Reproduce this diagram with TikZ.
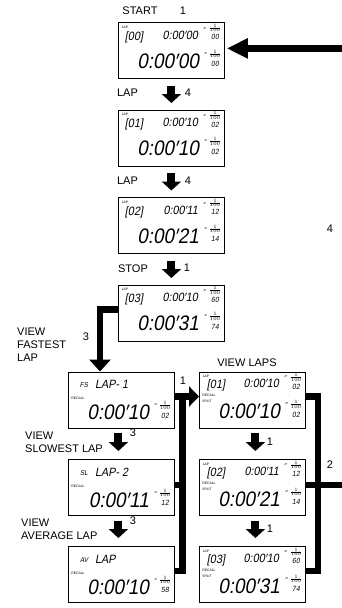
\documentclass[tikz,border=0pt]{standalone}
\usepackage{fontspec}
\setmainfont{Liberation Sans}
\newfontfamily\lcd[FakeSlant=0.18,FakeStretch=0.9]{Liberation Sans}
\usetikzlibrary{arrows.meta}

\tikzset{
  dbox/.style={draw=black, line width=0.8pt, minimum width=106pt, minimum height=56pt, inner sep=0, anchor=north west},
  lbl/.style={font=\fontsize{11}{13}\selectfont, inner sep=0, align=left},
  downarr/.style={line width=8pt, -{Triangle[width=19pt,length=9pt]}},
  blkarr/.style={line width=6.5pt, -{Triangle[width=20pt,length=10pt]}},
  bigarr/.style={line width=6.5pt, -{Triangle[width=19pt,length=21pt]}},
  bentarr/.style={line width=6.5pt, -{Triangle[width=21pt,length=12pt]}},
  bar/.style={line width=6.5pt},
  tinytx/.style={font=\fontsize{3.4}{3.4}\selectfont, inner sep=0},
  lcdsm/.style={font=\lcd\fontsize{12}{12}\selectfont, inner sep=0},
  lcdpre/.style={font=\lcd\fontsize{7}{7}\selectfont, inner sep=0},
  lcdbig/.style={font=\lcd\fontsize{21}{21}\selectfont, inner sep=0},
  lcdhund/.style={font=\lcd\fontsize{7.5}{7.5}\selectfont, inner sep=0},
  lcdq/.style={font=\lcd\fontsize{7}{7}\selectfont, inner sep=0},
  fr/.style={font=\fontsize{5}{5}\selectfont, inner sep=0},
}

% upper display: name, x, y, lap number, top time, top hundredths, big time, big hundredths
\newcommand\updisp[8]{%
  \node[dbox] (#1) at (#2,#3) {};
  \begin{scope}[shift={(#2,#3)}]
    \node[tinytx] (#1-a) at (7,5) {LAP};
    \node[lcdsm] (#1-n) at (16,15) {[#4]};
    \node[lcdsm, anchor=east] (#1-t) at (80,13) {#5};
    \node[lcdq] (#1-tq) at (86,8) {″};
    \node[fr] (#1-tf) at (97,6) {$\frac{1}{100}$};
    \node[lcdhund] (#1-th) at (97,15) {#6};
    \node[lcdbig, anchor=east] (#1-b) at (81,39) {#7};
    \node[lcdq] (#1-bq) at (87,33) {″};
    \node[fr] (#1-bf) at (97,32) {$\frac{1}{100}$};
    \node[lcdhund] (#1-bh) at (97,42) {#8};
  \end{scope}}

% recall display: name, x, y, prefix, label, big time, big hundredths
\newcommand\lodisp[7]{%
  \node[dbox] (#1) at (#2,#3) {};
  \begin{scope}[shift={(#2,#3)}]
    \node[lcdpre] (#1-p) at (16,14) {#4};
    \node[lcdsm, anchor=west] (#1-l) at (27,13) {#5};
    \node[tinytx] (#1-r) at (10,27) {RECALL};
    \node[lcdbig, anchor=east] (#1-b) at (81,41) {#6};
    \node[lcdq] (#1-bq) at (87,35) {″};
    \node[fr] (#1-bf) at (97,34) {$\frac{1}{100}$};
    \node[lcdhund] (#1-bh) at (97,44) {#7};
  \end{scope}}

% split display: name, x, y, lap number, top time, top hundredths, big time, big hundredths
\newcommand\rtdisp[8]{%
  \node[dbox] (#1) at (#2,#3) {};
  \begin{scope}[shift={(#2,#3)}]
    \node[tinytx] (#1-a) at (7,5) {LAP};
    \node[lcdsm] (#1-n) at (17,14) {[#4]};
    \node[lcdsm, anchor=east] (#1-t) at (80,12) {#5};
    \node[lcdq] (#1-tq) at (86,7) {″};
    \node[fr] (#1-tf) at (97,6) {$\frac{1}{100}$};
    \node[lcdhund] (#1-th) at (97,15) {#6};
    \node[tinytx] (#1-r) at (10,24) {RECALL};
    \node[tinytx] (#1-s) at (8,30) {SPLIT};
    \node[lcdbig, anchor=east] (#1-b) at (81,40) {#7};
    \node[lcdq] (#1-bq) at (87,34) {″};
    \node[fr] (#1-bf) at (97,33) {$\frac{1}{100}$};
    \node[lcdhund] (#1-bh) at (97,43) {#8};
  \end{scope}}

\begin{document}
\begin{tikzpicture}[x=1pt,y=-1pt]
\useasboundingbox (0,0) rectangle (342,608);

% displays
\updisp{b1}{118}{22}{00}{0:00′00}{00}{0:00′00}{00}
\updisp{b2}{118}{109.5}{01}{0:00′10}{02}{0:00′10}{02}
\updisp{b3}{118}{197}{02}{0:00′11}{12}{0:00′21}{14}
\updisp{b4}{118}{284.5}{03}{0:00′10}{60}{0:00′31}{74}
\lodisp{b5}{68}{371.5}{FS}{LAP- 1}{0:00′10}{02}
\lodisp{b7}{68}{459}{SL}{LAP- 2}{0:00′11}{12}
\lodisp{b8}{68}{546}{AV}{LAP}{0:00′10}{58}
\rtdisp{b6}{199}{371.5}{01}{0:00′10}{02}{0:00′10}{02}
\rtdisp{b9}{199}{459}{02}{0:00′11}{12}{0:00′21}{14}
\rtdisp{b10}{199}{546}{03}{0:00′10}{60}{0:00′31}{74}

% labels
\node[lbl] (l1) at (140,11) {START};
\node[lbl] (n1) at (183,11) {1};
\node[lbl] (l2) at (127.5,93) {LAP};
\node[lbl] (n2) at (188,93) {4};
\node[lbl] (l3) at (127.5,181) {LAP};
\node[lbl] (n3) at (188,181) {4};
\node[lbl] (l4) at (133,269) {STOP};
\node[lbl] (n4) at (187,268) {1};
\node[lbl] (n5) at (330,229) {4};
\node[lbl, anchor=north west] (l5) at (17,328) {VIEW\\FASTEST\\LAP};
\node[lbl] (n6) at (86,337) {3};
\node[lbl] (l6) at (247,363) {VIEW LAPS};
\node[lbl] (n7) at (183,381) {1};
\node[lbl, anchor=north west] (l7) at (25,432) {VIEW\\SLOWEST LAP};
\node[lbl] (n8) at (133,433) {3};
\node[lbl, anchor=north west] (l8) at (21,519) {VIEW\\AVERAGE LAP};
\node[lbl] (n9) at (133,521) {3};
\node[lbl] (n10) at (270,442) {1};
\node[lbl] (n11) at (270,529) {1};
\node[lbl] (n12) at (330,465) {2};

% down arrows
\draw[downarr] ([yshift=-7pt]b1.south) -- ([yshift=6.5pt]b2.north);
\draw[downarr] ([yshift=-7pt]b2.south) -- ([yshift=6.5pt]b3.north);
\draw[downarr] ([yshift=-7pt]b3.south) -- ([yshift=6.5pt]b4.north);
\draw[downarr] ([xshift=-3pt,yshift=-5pt]b5.south) -- ([xshift=-3pt,yshift=8pt]b7.north);
\draw[downarr] ([xshift=-3pt,yshift=-5pt]b7.south) -- ([xshift=-3pt,yshift=8pt]b8.north);
\draw[downarr] ([xshift=3pt,yshift=-5pt]b6.south) -- ([xshift=3pt,yshift=8pt]b9.north);
\draw[downarr] ([xshift=3pt,yshift=-5pt]b9.south) -- ([xshift=3pt,yshift=8pt]b10.north);

% incoming arrow at top
\coordinate (inR) at ([xshift=118pt,yshift=2pt]b1.east);
\draw[bigarr] (inR) -- ([xshift=2pt,yshift=2pt]b1.east);

% bent arrow STOP -> fastest lap
\draw[bentarr] ([yshift=-25pt]b4.north west) -| ([xshift=32pt]b5.north west);

% left bracket and arrow to VIEW LAPS
\coordinate (s5) at ([yshift=-25pt]b5.north east);
\coordinate (jL) at ([xshift=7.5pt]s5);
\coordinate (s7) at ([yshift=-26pt]b7.north east);
\coordinate (s8) at ([yshift=-25pt]b8.north east);
\draw[bar] (s8) -- (s8 -| jL) -- (jL);
\draw[bar] (s7) -- (s7 -| jL);
\draw[blkarr] (s5) -- ([yshift=-25pt]b6.north west);

% right bracket
\coordinate (s6) at ([yshift=-25pt]b6.north east);
\coordinate (jR) at ([xshift=12pt]s6);
\coordinate (s9) at ([yshift=-26pt]b9.north east);
\coordinate (s10) at ([yshift=-25pt]b10.north east);
\coordinate (outR) at ([xshift=40pt]s9);
\draw[bar] (s6) -- (jR) -- (jR |- s10) -- (s10);
\draw[bar] (s9) -- (outR);
\end{tikzpicture}
\end{document}
